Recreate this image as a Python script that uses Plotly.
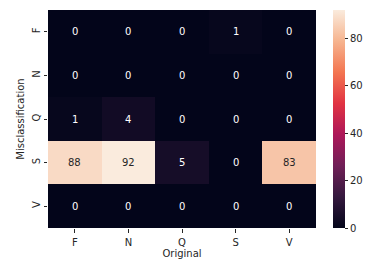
import plotly.graph_objects as go

cols = ["F", "N", "Q", "S", "V"]
rows = ["F", "N", "Q", "S", "V"]
values = [
    [0, 0, 0, 1, 0],
    [0, 0, 0, 0, 0],
    [1, 4, 0, 0, 0],
    [88, 92, 5, 0, 83],
    [0, 0, 0, 0, 0],
]
cbar_ticks = [0, 20, 40, 60, 80]

rocket = [
    [0.0, "#03051a"],
    [1/7, "#35193e"],
    [2/7, "#701f57"],
    [3/7, "#ad1759"],
    [4/7, "#e13342"],
    [5/7, "#f37651"],
    [6/7, "#f6b48f"],
    [1.0, "#faebdd"],
]

vmin = min(min(r) for r in values)
vmax = max(max(r) for r in values)

fig = go.Figure(go.Heatmap(
    z=values, x=cols, y=rows, colorscale=rocket, zmin=vmin, zmax=vmax,
    xgap=0, ygap=0, hoverinfo="skip",
    colorbar=dict(
        x=(333 - 48) / 268, xanchor="left", y=0.5, yanchor="middle",
        len=1, lenmode="fraction", thickness=12, outlinewidth=0, ypad=0, xpad=0,
        tickvals=cbar_ticks, ticks="outside", ticklen=3.5, tickcolor="#262626",
        tickfont=dict(family="DejaVu Sans", size=10, color="#262626"),
    ),
))

ann = []
for i, r in enumerate(rows):
    for j, c in enumerate(cols):
        v = values[i][j]
        frac = (v - vmin) / (vmax - vmin)
        ann.append(dict(
            x=c, y=r, text=str(v), showarrow=False,
            font=dict(family="DejaVu Sans", size=10,
                      color="#262626" if frac > 0.6 else "#ffffff"),
        ))

fig.update_layout(
    template="none",
    width=375, height=269,
    margin=dict(l=48, r=59, t=10, b=41, pad=0, autoexpand=False),
    paper_bgcolor="white", plot_bgcolor="white",
    annotations=ann,
    font=dict(family="DejaVu Sans", size=10, color="#262626"),
    xaxis=dict(title=dict(text="Original", standoff=3, font=dict(size=10)),
               ticks="outside", ticklen=3.5, tickcolor="#262626",
               ticklabelstandoff=1, automargin=False,
               showgrid=False, zeroline=False, showline=False),
    yaxis=dict(title=dict(text="Misclassification", standoff=4, font=dict(size=10)),
               autorange="reversed", tickangle=-90,
               ticks="outside", ticklen=3.5, tickcolor="#262626",
               ticklabelstandoff=0, automargin=False,
               showgrid=False, zeroline=False, showline=False),
)

fig.write_html("out.html", config={"displayModeBar": False},
               post_script="document.body.style.margin='0';")
